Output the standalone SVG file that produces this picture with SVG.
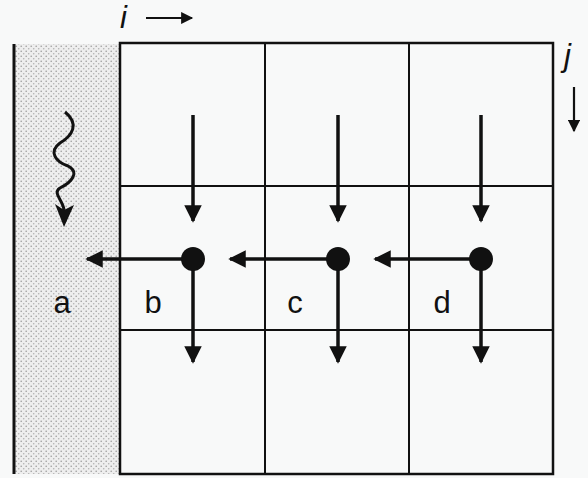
<svg xmlns="http://www.w3.org/2000/svg" width="588" height="478" viewBox="0 0 588 478">
  <style>
    .grid { fill: none; stroke: #111; stroke-width: 2; }
    .frame { fill: none; stroke: #111; stroke-width: 2.5; }
    .flow { fill: none; stroke: #111; stroke-width: 3.5; }
    .wave { fill: none; stroke: #111; stroke-width: 3; }
    .thin { fill: none; stroke: #111; stroke-width: 2.2; }
    .node { fill: #111; }
    .lbl { font-family: "Liberation Sans", Arial, sans-serif; font-size: 31px; fill: #111; text-anchor: middle; }
    .axis { font-family: "Liberation Sans", Arial, sans-serif; font-size: 31px; font-style: italic; fill: #111; }
  </style>
  <defs>
    <pattern id="screen" width="5" height="5" patternUnits="userSpaceOnUse">
      <rect width="5" height="5" fill="#eeeeee"/>
      <circle cx="1.2" cy="1.2" r="0.8" fill="#9a9a9a"/>
      <circle cx="3.7" cy="3.7" r="0.8" fill="#b0b0b0"/>
    </pattern>
    <marker id="head" viewBox="0 0 10 10" refX="9" refY="5" markerWidth="5.4" markerHeight="5" markerUnits="strokeWidth" orient="auto">
      <path d="M0,0 L10,5 L0,10 Z" fill="#111"/>
    </marker>
    <marker id="headThin" viewBox="0 0 10 10" refX="9" refY="5" markerWidth="6" markerHeight="5.5" markerUnits="strokeWidth" orient="auto">
      <path d="M0,0 L10,5 L0,10 Z" fill="#111"/>
    </marker>
  </defs>

  <rect width="588" height="478" fill="#f8f9f9"/>

  <!-- boundary strip -->
  <g id="strip">
    <rect x="14" y="44" width="106" height="430" fill="url(#screen)"/>
    <line x1="14" y1="44" x2="14" y2="474" stroke="#111" stroke-width="3"/>
  </g>

  <!-- grid of cells -->
  <g id="grid">
    <rect class="frame" x="120" y="43" width="433" height="431" fill="#fafbfb"/>
    <line class="grid" x1="265" y1="43" x2="265" y2="474"/>
    <line class="grid" x1="409" y1="43" x2="409" y2="474"/>
    <line class="grid" x1="120" y1="186" x2="553" y2="186"/>
    <line class="grid" x1="120" y1="330" x2="553" y2="330"/>
  </g>

  <!-- axis indicators -->
  <g id="axis-i">
    <text class="axis" x="120" y="28">i</text>
    <line class="thin" x1="146" y1="18" x2="192" y2="18" marker-end="url(#headThin)"/>
  </g>
  <g id="axis-j">
    <text class="axis" x="564" y="66">j</text>
    <line class="thin" x1="574" y1="87" x2="574" y2="131" marker-end="url(#headThin)"/>
  </g>

  <!-- cell labels -->
  <g id="cell-a"><text class="lbl" x="62" y="313">a</text></g>
  <g id="cell-b"><text class="lbl" x="153" y="313">b</text></g>
  <g id="cell-c"><text class="lbl" x="295" y="313">c</text></g>
  <g id="cell-d"><text class="lbl" x="442" y="313">d</text></g>

  <!-- connectors -->
  <g id="connectors">
    <path class="wave" d="M65,112 C80,124 72,136 60,143 C48,152 56,162 68,166 C80,172 72,182 60,188 C52,193 63,200 64,210"/>
    <path d="M64,227 L55,204 L64,210 L74,205 Z" fill="#111"/>
    <line class="flow" x1="193" y1="115" x2="193" y2="221" marker-end="url(#head)"/>
    <line class="flow" x1="338" y1="115" x2="338" y2="221" marker-end="url(#head)"/>
    <line class="flow" x1="481" y1="115" x2="481" y2="221" marker-end="url(#head)"/>
    <line class="flow" x1="193" y1="259" x2="87" y2="259" marker-end="url(#head)"/>
    <line class="flow" x1="338" y1="259" x2="230" y2="259" marker-end="url(#head)"/>
    <line class="flow" x1="481" y1="259" x2="375" y2="259" marker-end="url(#head)"/>
    <line class="flow" x1="193" y1="259" x2="193" y2="362" marker-end="url(#head)"/>
    <line class="flow" x1="338" y1="259" x2="338" y2="362" marker-end="url(#head)"/>
    <line class="flow" x1="481" y1="259" x2="481" y2="362" marker-end="url(#head)"/>
  </g>

  <!-- flux nodes -->
  <g id="node-b"><circle class="node" cx="193" cy="259" r="12"/></g>
  <g id="node-c"><circle class="node" cx="338" cy="259" r="12"/></g>
  <g id="node-d"><circle class="node" cx="481" cy="259" r="12"/></g>
</svg>
